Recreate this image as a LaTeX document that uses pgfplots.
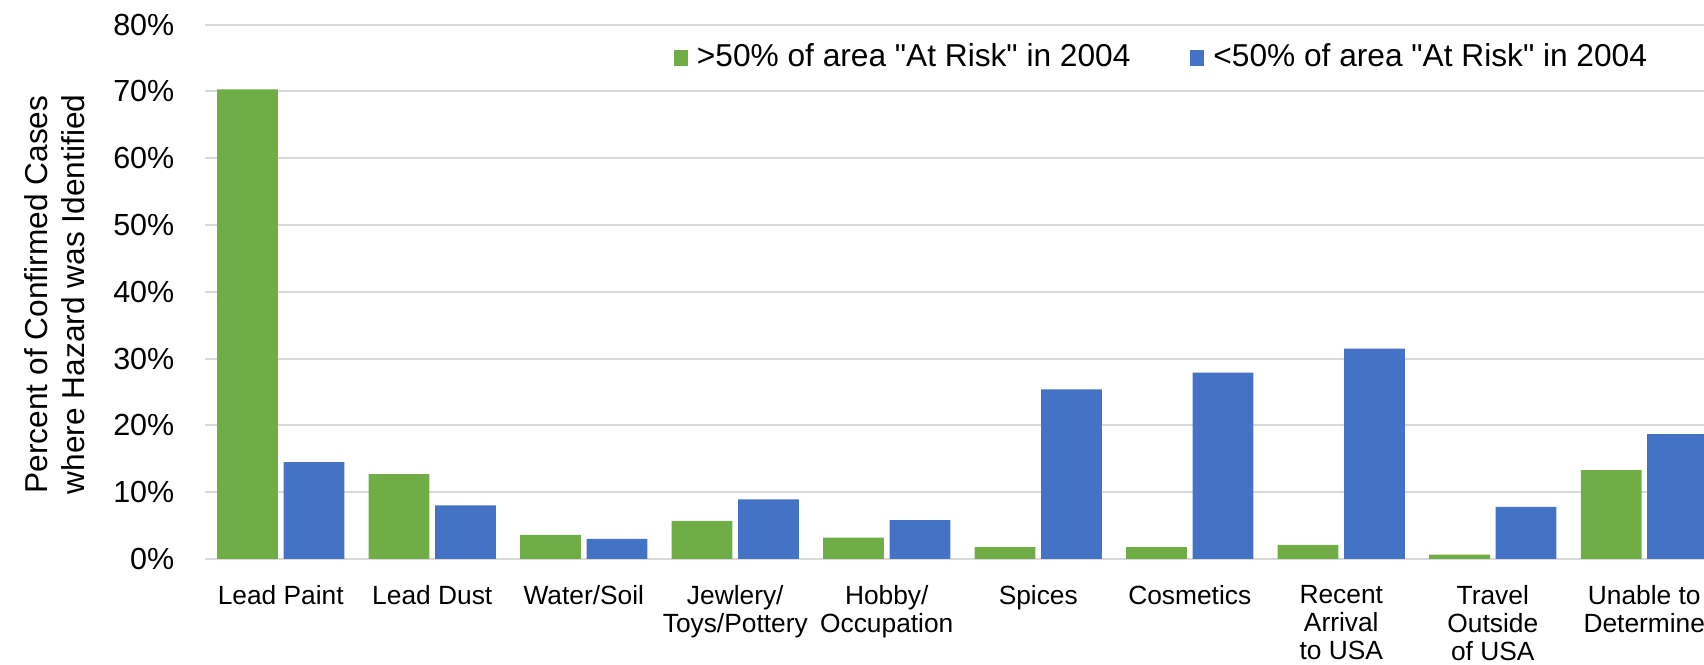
\documentclass[border=0pt]{standalone}
\usepackage{pgfplots}
\pgfplotsset{compat=1.18}
\usepackage{fontspec}
\setmainfont{Liberation Sans}
\newfontfamily\qfont{Liberation Sans}
\newcommand{\q}{{\qfont\symbol{34}}}
\definecolor{cgreen}{HTML}{70AD47}
\definecolor{cblue}{HTML}{4472C4}
\definecolor{cgrid}{HTML}{D9D9D9}
\begin{document}
\begin{tikzpicture}
\begin{axis}[
  scale only axis,
  width=449.7pt, height=160.3pt,
  ybar,
  bar width=0.401,
  xmin=-0.5, xmax=9.394,
  ymin=0, ymax=80,
  ytick={0,10,20,30,40,50,60,70,80},
  yticklabels={0\%,10\%,20\%,30\%,40\%,50\%,60\%,70\%,80\%},
  xtick={0,1,2,3,4,5,6,7,8,9},
  xticklabels={Lead Paint,Lead Dust,Water/Soil,Jewlery/\\Toys/Pottery,Hobby/\\Occupation,Spices,Cosmetics,Recent\\Arrival\\to USA,Travel\\Outside\\of USA,Unable to\\Determine},
  major tick length=0pt,
  axis line style={draw=none},
  ymajorgrids,
  grid style={draw=cgrid, line width=0.6pt},
  yticklabel style={font=\fontsize{9.15}{10}\selectfont, inner sep=0pt, xshift=-9pt},
  xticklabel style={font=\fontsize{7.9}{8.5}\selectfont, align=center, inner sep=0pt, anchor=north, yshift=-7.6pt},
  ylabel={Percent of Confirmed Cases\\where Hazard was Identified},
  ylabel style={font=\fontsize{9.5}{11.1}\selectfont, align=center, at={(axis description cs:-0.1000,0.495)}, anchor=center},
  legend columns=2,
  legend style={at={(0.6374,0.9375)}, anchor=center, draw=none, fill=none,
    font=\fontsize{9.5}{11}\selectfont, inner sep=0pt,
    nodes={inner sep=0pt},
    /tikz/every odd column/.append style={column sep=2.7pt},
    /tikz/every even column/.append style={column sep=18pt}},
]
\addplot[fill=cgreen, draw=none, bar shift=-0.219,
  legend image code/.code={\fill[cgreen] (0pt,-2.3pt) rectangle (4.2pt,2.3pt);}]
  coordinates {(0,70.3) (1,12.7) (2,3.6) (3,5.7) (4,3.2) (5,1.75) (6,1.75) (7,2.1) (8,0.65) (9,13.3)};
\addplot[fill=cblue, draw=none, bar shift=0.219,
  legend image code/.code={\fill[cblue] (0pt,-2.3pt) rectangle (4.2pt,2.3pt);}]
  coordinates {(0,14.5) (1,8.0) (2,3.0) (3,8.9) (4,5.8) (5,25.4) (6,27.9) (7,31.5) (8,7.8) (9,18.7)};
\legend{{>50\% of area \q At Risk\q{} in 2004},{<50\% of area \q At Risk\q{} in 2004}}
\end{axis}
\pgfresetboundingbox
\path[use as bounding box] ([xshift=-61.5pt,yshift=-31.8pt]current axis.south west) rectangle ([yshift=7.38pt]current axis.north east);
\end{tikzpicture}
\end{document}
